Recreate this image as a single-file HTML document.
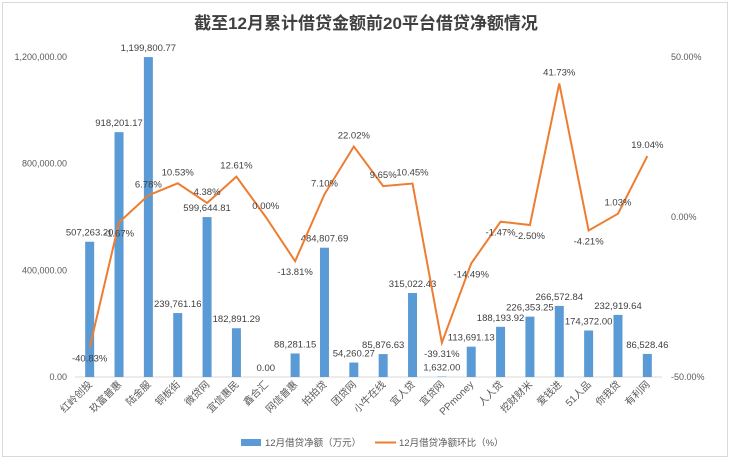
<!DOCTYPE html>
<html><head><meta charset="utf-8">
<style>
html,body{margin:0;padding:0;background:#fff;}
body{width:732px;height:461px;overflow:hidden;font-family:"Liberation Sans","Noto Sans CJK SC",sans-serif;}
#frame{position:absolute;left:2px;top:2px;width:726px;height:455px;border:1px solid #d9d9d9;box-sizing:border-box;}
svg{position:absolute;left:0;top:0;}
</style></head>
<body>
<div id="frame"></div>
<svg id="chart" width="732" height="461"></svg>
<script>
const categories=["红岭创投","玖富普惠","陆金服","铜板街","微贷网","宜信惠民","鑫合汇","网信普惠","拍拍贷","团贷网","小牛在线","宜人贷","宜贷网","PPmoney","人人贷","挖财财米","爱钱进","51人品","你我贷","有利网"];
const netAmounts=[507263.20,918201.17,1199800.77,239761.16,599644.81,182891.29,0,88281.15,484807.69,54260.27,85876.63,315022.43,1632,113691.13,188193.92,226353.25,266572.84,174372.00,232919.64,86528.46];
const momChange=[-40.83,-1.67,6.78,10.53,4.38,12.61,0.00,-13.81,7.10,22.02,9.65,10.45,-39.31,-14.49,-1.47,-2.50,41.73,-4.21,1.03,19.04];
const leftTicks=[0,400000,800000,1200000];
const rightTicks=[-50,0,50];

const NS="http://www.w3.org/2000/svg";
const svg=document.getElementById('chart');
const X0=75,X1=662,YT=57,YB=377;
const band=(X1-X0)/categories.length;
const xc=i=>X0+band*(i+0.5);
const yL=v=>YB-(v/1200000)*(YB-YT);
const yR=v=>YB-((v+50)/100)*(YB-YT);
const fmt=v=>v.toLocaleString('en-US',{minimumFractionDigits:2,maximumFractionDigits:2});
function el(t,a,txt){const e=document.createElementNS(NS,t);for(const k in a)e.setAttribute(k,a[k]);if(txt!==undefined)e.textContent=txt;svg.appendChild(e);return e;}

const title=el('text',{x:366,y:29,'text-anchor':'middle','font-size':17,'font-weight':'bold',fill:'#404040'},'截至12月累计借贷金额前20平台借贷净额情况');



const base=el('line',{x1:X0,x2:X1,y1:YB,y2:YB,stroke:'#d9d9d9','stroke-width':1});



leftTicks.forEach(v=>{
  const t=el('text',{x:67,y:yL(v)+3,'text-anchor':'end','font-size':9,fill:'#595959'},fmt(v));
  
  
});
rightTicks.forEach(v=>{
  const t=el('text',{x:671,y:yR(v)+3,'text-anchor':'start','font-size':9,fill:'#595959'},v.toFixed(2)+'%');
  
  
});

netAmounts.forEach((v,i)=>{
  const y=yL(v);
  const r=el('rect',{x:xc(i)-4.5,y:y,width:9,height:YB-y,fill:'#5b9bd5'});
  
  
  const t=el('text',{x:xc(i),y:y-6,'text-anchor':'middle','font-size':9.5,fill:'#404040'},fmt(v));
  
  
});

const pts=momChange.map((v,i)=>xc(i)+','+yR(v)).join(' ');
const line=el('polyline',{points:pts,fill:'none',stroke:'#ed7d31','stroke-width':2,'stroke-linejoin':'miter'});


momChange.forEach((v,i)=>{
  const ly=v<0?yR(v)+14:yR(v)-8;
  const t=el('text',{x:xc(i),y:ly,'text-anchor':'middle','font-size':9.5,fill:'#404040'},v.toFixed(2)+'%');
  
  
});

categories.forEach((c,i)=>{
  const x=xc(i)+3,y=YB+8;
  const t=el('text',{x:x,y:y,'text-anchor':'end','font-size':10,fill:'#595959',transform:`rotate(-45 ${x} ${y})`},c);
  
  
});

const s1=el('rect',{x:241,y:439,width:20,height:7,fill:'#5b9bd5'});


const l1=el('text',{x:265,y:446,'font-size':9.5,fill:'#595959'},'12月借贷净额（万元）');


const s2=el('line',{x1:375,x2:396,y1:442.5,y2:442.5,stroke:'#ed7d31','stroke-width':2});


const l2=el('text',{x:399,y:446,'font-size':9.5,fill:'#595959'},'12月借贷净额环比（%）');


</script>
</body></html>
